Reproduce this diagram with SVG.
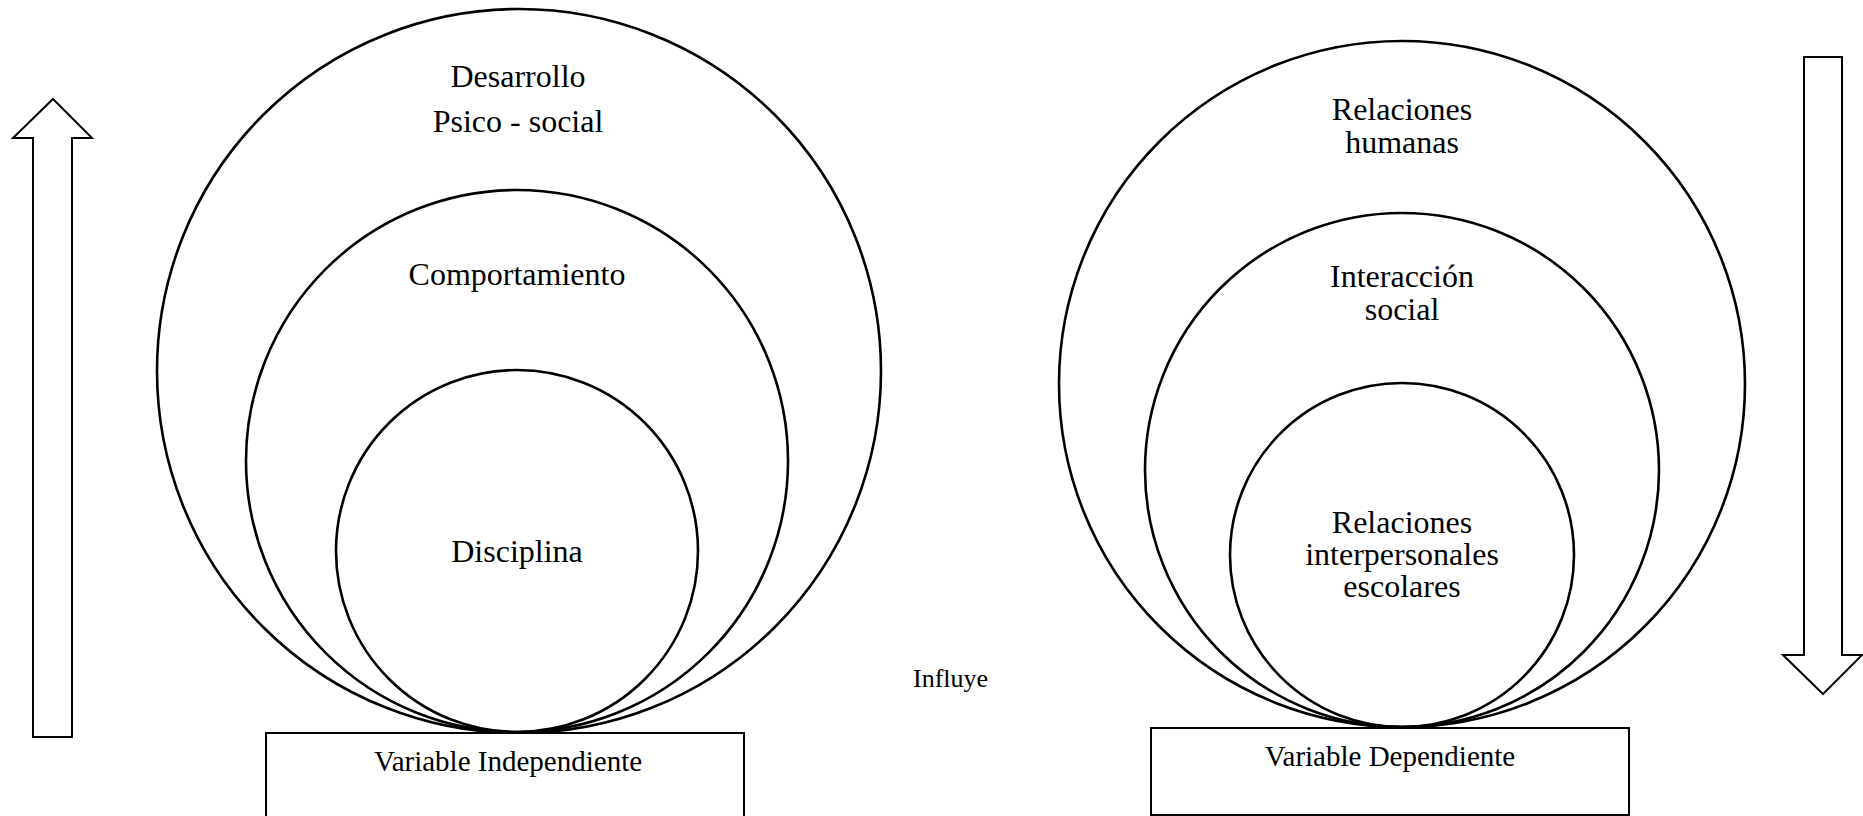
<svg xmlns="http://www.w3.org/2000/svg" width="1863" height="816" viewBox="0 0 1863 816">
<style>
.c{fill:none;stroke:#000;stroke-width:2.6}
.r{fill:#fff;stroke:#000;stroke-width:2}
.a{fill:#fff;stroke:#000;stroke-width:2;stroke-linejoin:miter}
.t{font-family:"Liberation Serif","Times New Roman",serif;font-size:32px;fill:#000;text-anchor:middle}
.v{font-family:"Liberation Serif","Times New Roman",serif;font-size:29px;fill:#000;text-anchor:middle}
.s{font-family:"Liberation Serif","Times New Roman",serif;font-size:26px;fill:#000}
</style>
<rect width="1863" height="816" fill="#fff"/>
<g id="connectors">
<polygon id="arrow-up" class="a" points="33,737 33,138 13,138 53,99 92,138 72,138 72,737"/>
<polygon id="arrow-down" class="a" points="1804,57 1842,57 1842,655 1862,655 1823,694 1783,655 1804,655"/>
<text id="influye" class="s" x="913" y="687">Influye</text>
</g>
<g id="desarrollo">
<circle class="c" cx="519" cy="371" r="362"/>
<text class="t" x="518" y="87">Desarrollo</text>
<text class="t" x="518" y="132">Psico - social</text>
</g>
<g id="comportamiento">
<circle class="c" cx="517" cy="461" r="271"/>
<text class="t" x="517" y="285">Comportamiento</text>
</g>
<g id="disciplina">
<circle class="c" cx="517" cy="551" r="181"/>
<text class="t" x="517" y="562">Disciplina</text>
</g>
<g id="variable-independiente">
<rect class="r" x="266" y="733" width="478" height="100"/>
<text class="v" x="508" y="771">Variable Independiente</text>
</g>
<g id="relaciones-humanas">
<circle class="c" cx="1402" cy="384" r="343"/>
<text class="t" x="1402" y="120">Relaciones</text>
<text class="t" x="1402" y="153">humanas</text>
</g>
<g id="interaccion-social">
<circle class="c" cx="1402" cy="470" r="257"/>
<text class="t" x="1402" y="287">Interacción</text>
<text class="t" x="1402" y="320">social</text>
</g>
<g id="relaciones-interpersonales">
<circle class="c" cx="1402" cy="555" r="172"/>
<text class="t" x="1402" y="533">Relaciones</text>
<text class="t" x="1402" y="565">interpersonales</text>
<text class="t" x="1402" y="597">escolares</text>
</g>
<g id="variable-dependiente">
<rect class="r" x="1151" y="728" width="478" height="87"/>
<text class="v" x="1390" y="766">Variable Dependiente</text>
</g>
</svg>
